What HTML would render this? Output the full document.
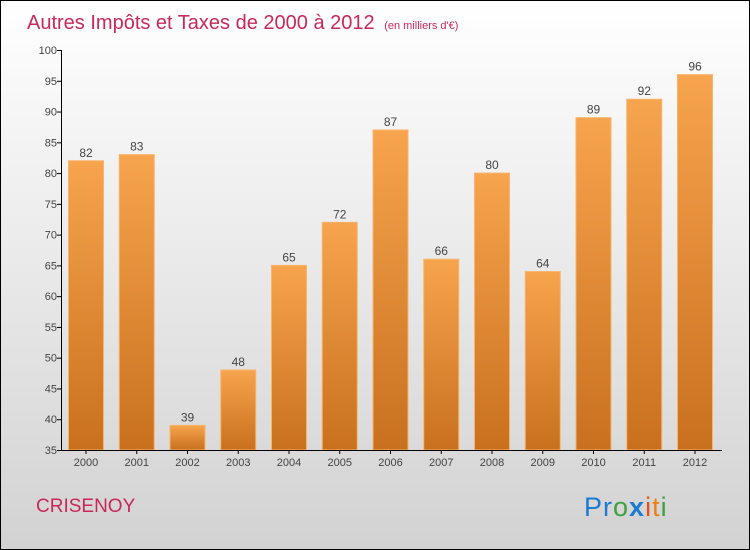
<!DOCTYPE html>
<html><head><meta charset="utf-8"><style>
body{margin:0;width:750px;height:550px;overflow:hidden;font-family:"Liberation Sans",sans-serif}
svg{display:block}
</style></head><body>
<svg id="chart" width="750" height="550">
<defs>
<linearGradient id="bg" x1="0" y1="0" x2="0" y2="1"><stop offset="0" stop-color="#ffffff"/><stop offset="1" stop-color="#d2d2d2"/></linearGradient>
<linearGradient id="bar" x1="0" y1="0" x2="0" y2="1"><stop offset="0" stop-color="#f7a44e"/><stop offset="1" stop-color="#c8701e"/></linearGradient>
</defs>
<rect x="0.5" y="0.5" width="749" height="549" fill="url(#bg)" stroke="#000"/>
<text x="27" y="29" font-size="20" fill="#c8285a">Autres Impôts et Taxes de 2000 à 2012 <tspan font-size="11" dx="4">(en milliers d'€)</tspan></text>
<g id="bars"></g>
<g id="axes"></g>
<text x="36" y="512" font-size="19" fill="#c8285a">CRISENOY</text>
<text x="584" y="516" font-size="27" letter-spacing="1"><tspan fill="#1a7ad4">Pr</tspan><tspan fill="#3aa040">o</tspan><tspan fill="#1a7ad4" font-weight="bold">x</tspan><tspan fill="#e8501a">i</tspan><tspan fill="#f07d10">t</tspan><tspan fill="#3aa040">i</tspan></text>
</svg>
<script>
const years=["2000","2001","2002","2003","2004","2005","2006","2007","2008","2009","2010","2011","2012"];
const values=[82,83,39,48,65,72,87,66,80,64,89,92,96];
const yTicks=[35,40,45,50,55,60,65,70,75,80,85,90,95,100];
const NS="http://www.w3.org/2000/svg";
const y0=450,y1=50,vmin=35,vmax=100;
const yS=v=>y0-(v-vmin)*(y0-y1)/(vmax-vmin);
const xS=i=>86+i*50.75;
const bars=document.getElementById('bars'),axes=document.getElementById('axes');
function mk(t,a,p){const e=document.createElementNS(NS,t);for(const k in a)e.setAttribute(k,a[k]);p.appendChild(e);return e;}
values.forEach((v,i)=>{
 const r=mk('rect',{x:xS(i)-17.5,y:yS(v),width:35,height:y0-yS(v),fill:'url(#bar)',stroke:'#f9b46a','stroke-width':1},bars);
 
 
 const t=mk('text',{x:xS(i),y:yS(v)-4,'text-anchor':'middle','font-size':12,fill:'#444'},bars);
 t.textContent=v;
 
 
 const xl=mk('text',{x:xS(i),y:466,'text-anchor':'middle','font-size':11,fill:'#444'},axes);
 xl.textContent=years[i];
 
 
 mk('line',{x1:xS(i),x2:xS(i),y1:450,y2:454,stroke:'#000'},axes);
});
const ya=mk('line',{x1:61.5,x2:61.5,y1:50,y2:450,stroke:'#000'},axes);


const xa=mk('line',{x1:61,x2:722,y1:450.5,y2:450.5,stroke:'#000'},axes);


yTicks.forEach(v=>{
 mk('line',{x1:57,x2:62,y1:yS(v)+.5,y2:yS(v)+.5,stroke:'#000'},axes);
 const t=mk('text',{x:57,y:yS(v)+4,'text-anchor':'end','font-size':11,fill:'#444'},axes);
 t.textContent=v;
 
 
});
</script>
</body></html>
